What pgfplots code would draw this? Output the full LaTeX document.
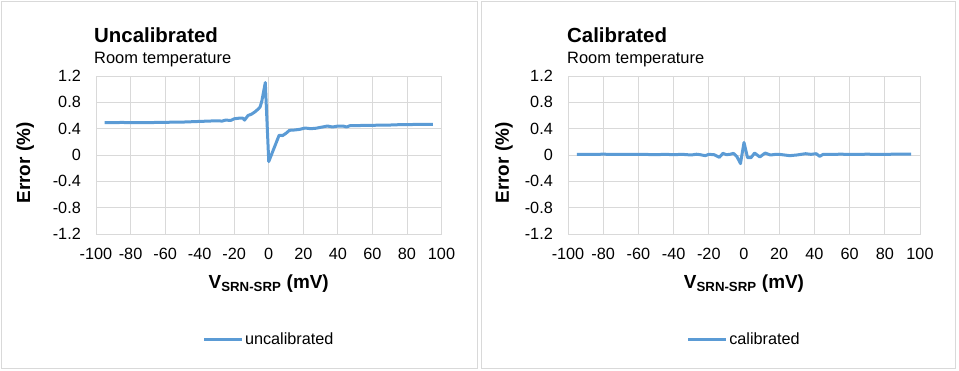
\documentclass[border=0pt]{standalone}
\usepackage{fontspec}
\setmainfont{Liberation Sans}
\usepackage{pgfplots}
\pgfplotsset{compat=1.18}
\definecolor{lineblue}{HTML}{5B9BD5}
\definecolor{gridgray}{HTML}{D9D9D9}
\definecolor{framegray}{HTML}{D9D9D9}
\pgfplotsset{panel/.style={
  scale only axis, height=158bp,
  xmin=-100, xmax=100, ymin=-1.2, ymax=1.2,
  xtick={-100,-80,-60,-40,-20,0,20,40,60,80,100},
  xticklabels={-100,-80,-60,-40,-20,0,20,40,60,80,100},
  ytick={-1.2,-0.8,-0.4,0,0.4,0.8,1.2},
  yticklabels={-1.2,-0.8,-0.4,0,0.4,0.8,1.2},
  grid=major, grid style={draw=gridgray, line width=0.8bp},
  axis line style={draw=gridgray, line width=0.8bp},
  major tick length=0pt,
  tick label style={font=\fontsize{16.3}{19}\selectfont, inner sep=0pt},
  xticklabel shift=14bp, yticklabel shift=15bp,
  label style={font=\bfseries\fontsize{19}{22}\selectfont},
  xlabel={V\textsubscript{SRN-SRP} (mV)},
  ylabel={Error (\%)},
  xlabel style={at={(axis description cs:0.5,-0.342)}, anchor=base},
  legend style={draw=none, fill=none, font=\fontsize{16.3}{19}\selectfont,
    at={(0.5,-0.67)}, anchor=center, inner sep=0pt, nodes={inner sep=1.5bp}},
  legend image code/.code={\draw[#1] (0bp,0bp) -- (38bp,0bp);},
}}
\pgfplotstableread{
x y
-95 0.49
-90 0.49
-85 0.495
-80 0.49
-75 0.49
-70 0.49
-65 0.495
-60 0.495
-55 0.50
-50 0.50
-45 0.505
-40 0.51
-35 0.515
-30 0.52
-27 0.515
-25 0.53
-22 0.525
-20 0.55
-17 0.56
-15 0.56
-14 0.53
-12 0.60
-10 0.62
-8 0.655
-6 0.70
-5 0.73
-4 0.82
-2 1.10
0 -0.10
3 0.10
6 0.30
8 0.295
10 0.33
12 0.375
15 0.38
18 0.39
21 0.41
24 0.40
27 0.405
30 0.42
34 0.44
37 0.425
40 0.44
43 0.44
45 0.425
47 0.445
50 0.445
55 0.45
60 0.45
65 0.455
70 0.455
75 0.46
80 0.46
85 0.465
90 0.465
95 0.465
}\uncal
\pgfplotstableread{
x y
-95 0.01
-90 0.01
-85 0.01
-80 0.012
-75 0.01
-70 0.01
-65 0.008
-60 0.01
-55 0.008
-50 0.005
-45 0.01
-40 0.005
-35 0.01
-30 0.0
-27 0.012
-25 0.005
-22 -0.01
-20 0.01
-17 0.005
-14 -0.035
-12 0.025
-10 0.005
-8 0.01
-6 0.025
-4 -0.025
-2 -0.13
0 0.19
2 -0.04
4 -0.04
6 0.03
9 -0.03
12 0.03
15 0.0
18 0.01
20 0.01
23 0.0
26 -0.01
30 0.0
35 0.02
38 0.01
41 0.02
43 -0.02
45 0.01
50 0.01
55 0.012
60 0.01
65 0.01
70 0.012
75 0.01
80 0.01
85 0.012
90 0.015
95 0.015
}\cal
\begin{document}
\begin{tikzpicture}[x=1bp,y=1bp]
\useasboundingbox (0,0) rectangle (959,370);
\draw[framegray, line width=0.8bp] (1,2) rectangle (477,369);
\draw[framegray, line width=0.8bp] (481,2) rectangle (955,369);
\begin{axis}[panel, at={(96bp,136bp)}, anchor=south west, width=345.5bp,
  ylabel style={at={(axis description cs:-0.205,0.45)}, anchor=center}]
\addplot[color=lineblue, line width=3bp, line join=round, mark=none] table[x=x,y=y] {\uncal};
\addlegendentry{uncalibrated}
\end{axis}
\begin{axis}[panel, at={(568bp,136bp)}, anchor=south west, width=352bp,
  ylabel style={at={(axis description cs:-0.182,0.45)}, anchor=center}]
\addplot[color=lineblue, line width=3bp, line join=round, mark=none] table[x=x,y=y] {\cal};
\addlegendentry{calibrated}
\end{axis}
\node[anchor=base west, inner sep=0pt, font=\bfseries\fontsize{20.5}{24}\selectfont] at (94,328) {Uncalibrated};
\node[anchor=base west, inner sep=0pt, font=\fontsize{16.5}{19}\selectfont] at (94,307) {Room temperature};
\node[anchor=base west, inner sep=0pt, font=\bfseries\fontsize{20.5}{24}\selectfont] at (567,328) {Calibrated};
\node[anchor=base west, inner sep=0pt, font=\fontsize{16.5}{19}\selectfont] at (567,307) {Room temperature};
\end{tikzpicture}
\end{document}
